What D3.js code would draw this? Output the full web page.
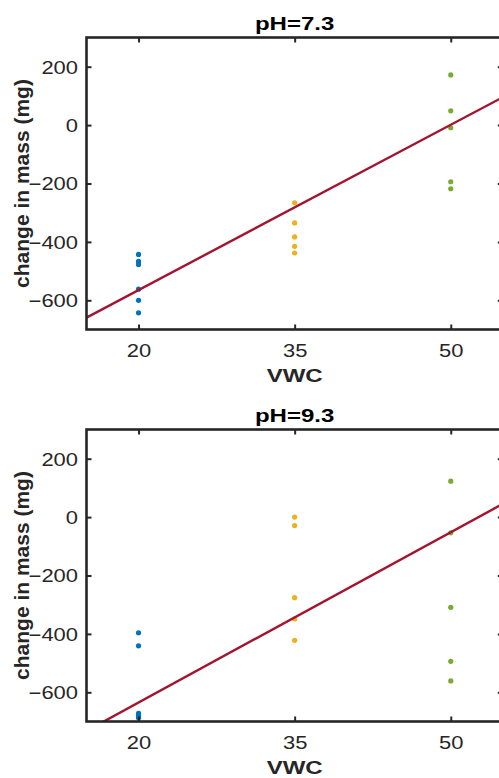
<!DOCTYPE html>
<html>
<head>
<meta charset="utf-8">
<script src="https://cdn.jsdelivr.net/npm/d3@7"></script>
<style>
  html, body { margin: 0; padding: 0; background: #fff; }
  svg { display: block; }
</style>
</head>
<body>
<svg id="chart" width="499" height="778"></svg>
<script>
// Panel titles and axis ticks
const panelTitles = ["pH=7.3", "pH=9.3"];
const xTicks = [20, 35, 50];
const yTicks = [-600, -400, -200, 0, 200];
const vwcLevels = [20, 35, 50];

// Change in mass (mg) per VWC level, pH 7.3
const mass73_vwc20 = [-443, -467, -477, -562, -600, -643];
const mass73_vwc35 = [-266, -335, -383, -415, -438];
const mass73_vwc50 = [172, 49, -9, -194, -218];

// Change in mass (mg) per VWC level, pH 9.3
const mass93_vwc20 = [-396, -441, -672, -680, -687];
const mass93_vwc35 = [0, -29, -276, -349, -422];
const mass93_vwc50 = [123, -54, -309, -494, -561];

// Linear fit for each panel: mass = intercept + slope * VWC
const fitIntercept = [-942.4, -1023.9];
const fitSlope = [18.87, 19.44];

const groupColors = ["#0072BD", "#EDB120", "#77AC30"];
const fitColor = "#A2142F";
const axisColor = "#262626";

const panelData = [
  [mass73_vwc20, mass73_vwc35, mass73_vwc50],
  [mass93_vwc20, mass93_vwc35, mass93_vwc50]
];

const svg = d3.select("#chart");
const left = 86.5, right = 502.8;
const panelTops = [37.5, 429.5];
const plotH = 292;
const tickFont = "'Liberation Sans', Arial, sans-serif";
const tickScaleX = 1.22;
const boldScaleX = 1.3;

const x = d3.scaleLinear().domain([15, 55]).range([left, right]);

panelTitles.forEach((title, p) => {
  const top = panelTops[p], bottom = top + plotH;
  const y = d3.scaleLinear().domain([-700, 300]).range([bottom, top]);
  const g = svg.append("g");

  const clipId = "clip" + p;
  svg.append("clipPath").attr("id", clipId)
    .append("rect").attr("x", left).attr("y", top)
    .attr("width", right - left).attr("height", plotH);

  // Scatter points for each VWC group
  panelData[p].forEach((vals, k) => {
    g.append("g").attr("clip-path", `url(#${clipId})`)
      .selectAll("circle").data(vals).join("circle")
      .attr("cx", x(vwcLevels[k]))
      .attr("cy", d => y(d))
      .attr("r", 2.6)
      .attr("fill", groupColors[k]);
  });

  // Fitted line
  const fitX = [15, 55];
  g.append("path")
    .attr("clip-path", `url(#${clipId})`)
    .datum(fitX.map(v => [v, fitIntercept[p] + fitSlope[p] * v]))
    .attr("d", d3.line().x(d => x(d[0])).y(d => y(d[1])))
    .attr("fill", "none")
    .attr("stroke", fitColor)
    .attr("stroke-width", 2.4);

  // Axes: inward ticks on all four sides
  const styleAxis = sel => {
    sel.select(".domain").remove();
    sel.selectAll(".tick line").attr("stroke", axisColor).attr("stroke-width", 2);
    sel.selectAll(".tick text").attr("fill", axisColor)
      .style("font-family", tickFont).style("font-size", "18px");
  };

  const ax = g.append("g").attr("transform", `translate(0,${bottom})`)
    .call(d3.axisBottom(x).tickValues(xTicks).tickSizeInner(-5).tickSizeOuter(0).tickPadding(0))
    .call(styleAxis);
  ax.selectAll(".tick text")
    .attr("y", 27.2).attr("dy", 0)
    .attr("transform", `scale(${tickScaleX},1)`);

  g.append("g").attr("transform", `translate(0,${top})`)
    .call(d3.axisTop(x).tickValues(xTicks).tickSizeInner(-5).tickSizeOuter(0).tickFormat(""))
    .call(styleAxis);

  const ay = g.append("g").attr("transform", `translate(${left},0)`)
    .call(d3.axisLeft(y).tickValues(yTicks).tickSizeInner(-5).tickSizeOuter(0).tickPadding(0))
    .call(styleAxis);
  ay.selectAll(".tick text")
    .attr("x", -8.5 / tickScaleX).attr("dy", "0.36em")
    .attr("transform", `scale(${tickScaleX},1)`);

  g.append("g").attr("transform", `translate(${right},0)`)
    .call(d3.axisRight(y).tickValues(yTicks).tickSizeInner(-5).tickSizeOuter(0).tickFormat(""))
    .call(styleAxis);

  // Axes box
  g.append("rect")
    .attr("x", left).attr("y", top)
    .attr("width", right - left).attr("height", plotH)
    .attr("fill", "none").attr("stroke", axisColor).attr("stroke-width", 2.6);

  const cx = (left + right) / 2;

  // Title
  g.append("g").attr("transform", `translate(${cx},${top - 7.3})`)
    .append("text")
    .attr("transform", `scale(${boldScaleX},1)`)
    .attr("text-anchor", "middle")
    .style("font-family", tickFont).style("font-weight", "bold").style("font-size", "18.5px")
    .attr("fill", "#000")
    .text(title);

  // x label
  g.append("g").attr("transform", `translate(${cx},${bottom + 52.2})`)
    .append("text")
    .attr("transform", `scale(${boldScaleX},1)`)
    .attr("text-anchor", "middle")
    .style("font-family", tickFont).style("font-weight", "bold").style("font-size", "18.5px")
    .attr("fill", axisColor)
    .text("VWC");

  // y label
  g.append("text")
    .attr("transform", `translate(28.6,${(top + bottom) / 2}) rotate(-90)`)
    .attr("text-anchor", "middle")
    .style("font-family", tickFont).style("font-weight", "bold").style("font-size", "21px")
    .attr("fill", axisColor)
    .text("change in mass (mg)");
});
</script>
</body>
</html>
